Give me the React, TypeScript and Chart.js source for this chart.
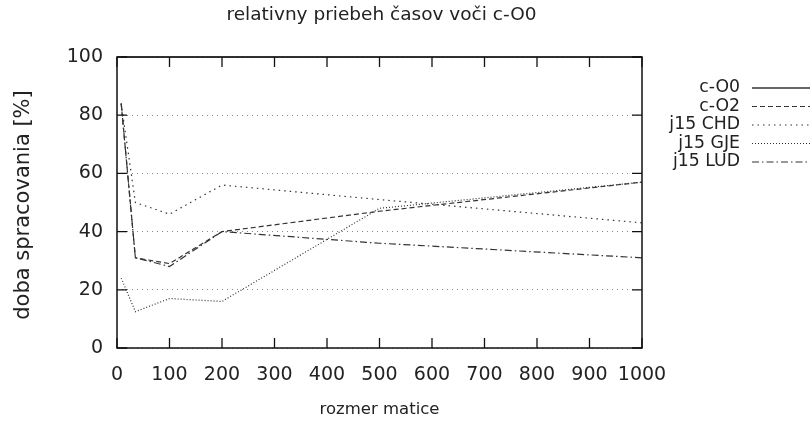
import React, { useEffect, useRef } from "react";
import { Chart, registerables } from "chart.js";

Chart.register(...registerables);

const chartTitle = "relativny priebeh časov voči c-O0";
const xTitle = "rozmer matice";
const yTitle = "doba spracovania [%]";

const sizes = [8, 35, 100, 200, 500, 1000];
const seriesNames = ["c-O0", "c-O2", "j15 CHD", "j15 GJE", "j15 LUD"];
const cO0 = [100, 100, 100, 100, 100, 100];
const cO2 = [84, 31, 29, 40, 47, 57];
const j15CHD = [84, 50, 46, 56, 51, 43];
const j15GJE = [24, 12.5, 17, 16, 48, 57];
const j15LUD = [84, 31, 28, 40, 36, 31];
const dashes = [[], [5, 3], [1.5, 4], [1, 2], [7, 3, 1.5, 3]];

const FONT = "'DejaVu Sans', Verdana, sans-serif";
const INK = "#222";

export default function App() {
  const ref = useRef<HTMLCanvasElement | null>(null);

  useEffect(() => {
    document.body.style.margin = "0";
    const canvas = ref.current;
    if (!canvas) return;
    const all = [cO0, cO2, j15CHD, j15GJE, j15LUD];
    const datasets = all.map((vals, i) => ({
      label: seriesNames[i],
      data: vals.map((v, k) => ({ x: sizes[k], y: v })),
      borderColor: "#333",
      borderWidth: 1.2,
      borderDash: dashes[i],
      pointRadius: 0,
      fill: false,
      tension: 0,
      clip: 3,
    }));

    const frame = {
      id: "gnuframe",
      afterDraw(chart: any) {
        const { ctx, chartArea: a, scales } = chart;
        const xs = scales.x;
        const ys = scales.y;
        ctx.save();
        ctx.strokeStyle = "#111";
        ctx.lineWidth = 1.5;
        ctx.setLineDash([]);
        ctx.strokeRect(a.left, a.top, a.right - a.left, a.bottom - a.top);
        ctx.lineWidth = 1.3;
        xs.ticks.forEach((t: any) => {
          const px = xs.getPixelForValue(t.value);
          ctx.beginPath();
          ctx.moveTo(px, a.bottom);
          ctx.lineTo(px, a.bottom - 10);
          ctx.moveTo(px, a.top);
          ctx.lineTo(px, a.top + 10);
          ctx.stroke();
        });
        ys.ticks.forEach((t: any) => {
          const py = ys.getPixelForValue(t.value);
          ctx.beginPath();
          ctx.moveTo(a.left, py);
          ctx.lineTo(a.left + 10, py);
          ctx.moveTo(a.right, py);
          ctx.lineTo(a.right - 10, py);
          ctx.stroke();
        });
        // titles
        ctx.fillStyle = INK;
        ctx.textAlign = "center";
        ctx.textBaseline = "middle";
        ctx.font = `18.5px ${FONT}`;
        ctx.fillText(chartTitle, (a.left + a.right) / 2 + 2, 15);
        ctx.font = `16.5px ${FONT}`;
        ctx.fillText(xTitle, (a.left + a.right) / 2, 410);
        ctx.save();
        ctx.translate(24, 205);
        ctx.rotate(-Math.PI / 2);
        ctx.font = `21px ${FONT}`;
        ctx.fillText(yTitle, 0, 0);
        ctx.restore();
        // legend
        ctx.font = `17.3px ${FONT}`;
        ctx.textAlign = "right";
        chart.data.datasets.forEach((ds: any, i: number) => {
          const y = 88 + i * 18.5;
          ctx.fillStyle = INK;
          ctx.fillText(ds.label, 740, y);
          ctx.strokeStyle = "#333";
          ctx.lineWidth = i === 0 ? 1.6 : 1.2;
          ctx.setLineDash(ds.borderDash || []);
          ctx.beginPath();
          ctx.moveTo(752, y);
          ctx.lineTo(810, y);
          ctx.stroke();
        });
        ctx.restore();
      },
    };

    const chart = new Chart(canvas, {
      type: "line",
      data: { datasets },
      options: {
        responsive: false,
        animation: false,
        layout: { padding: { top: 57, right: 170, left: 0, bottom: 0 } },
        plugins: { legend: { display: false }, tooltip: { enabled: false } },
        scales: {
          x: {
            type: "linear",
            min: 0,
            max: 1000,
            ticks: {
              stepSize: 100,
              color: INK,
              font: { family: FONT, size: 19 },
              padding: 16,
              maxRotation: 0,
              autoSkip: false,
              callback: (v: any) => String(v),
            },
            grid: { display: false, drawTicks: false },
            border: { display: false },
            afterFit: (s: any) => { s.height = 75; },
          },
          y: {
            min: 0,
            max: 100,
            ticks: { stepSize: 20, color: INK, font: { family: FONT, size: 19 }, padding: 14 },
            grid: { color: "#888", drawTicks: false, lineWidth: 1 },
            border: { display: false, dash: [1, 4] },
            afterFit: (s: any) => { s.width = 117; },
          },
        },
      },
      plugins: [frame],
    } as any);
    return () => chart.destroy();
  }, []);

  return <canvas ref={ref} width={812} height={423} style={{ display: "block" }} />;
}
